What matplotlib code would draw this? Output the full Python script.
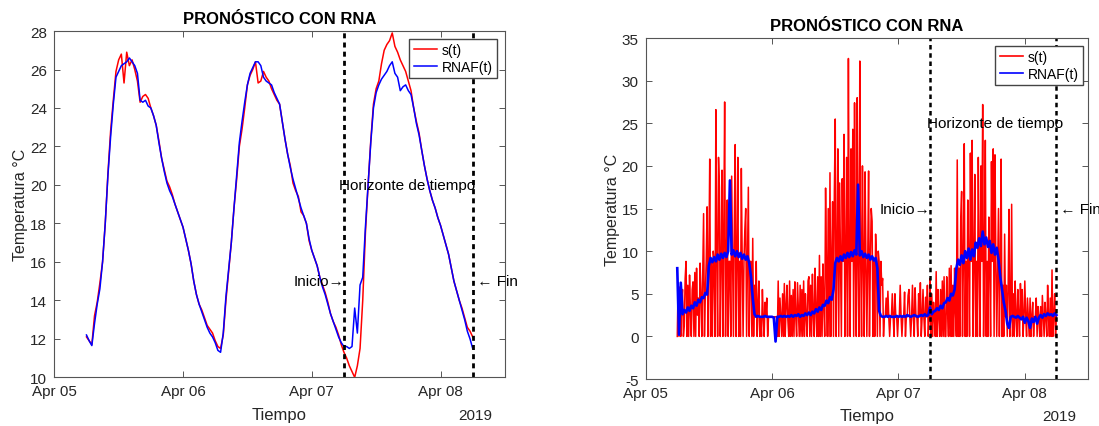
import numpy as np
import pandas as pd
import matplotlib
matplotlib.use('Agg')
import matplotlib.pyplot as plt
import matplotlib.dates as mdates

plt.rcParams['font.family'] = ['Liberation Sans', 'DejaVu Sans']
plt.rcParams['axes.unicode_minus'] = False

# ── left panel: 30 min samples, Apr 05 06:00 → Apr 08 06:00 ──
t_left = pd.date_range('2019-04-05 06:00', '2019-04-08 06:00', freq='30min')

rnaf_left = [
    12.2, 11.9, 11.65, 12.8, 13.8, 14.6,   # Apr 05 06-09
    16.0, 18.0, 20.5, 22.5, 24.2, 25.6,
    25.9, 26.2, 26.3, 26.4, 26.6, 26.4,
    26.2, 25.8, 24.4, 24.3, 24.4, 24.1,
    24.0, 23.6, 23.1, 22.2, 21.4, 20.7,
    20.1, 19.7, 19.4, 19.0, 18.6, 18.2,
    17.8, 17.2, 16.6, 15.9, 15.0, 14.3,    # Apr 06
    13.8, 13.4, 13.0, 12.6, 12.3, 12.1,
    11.8, 11.4, 11.3, 12.3, 14.2, 15.6,
    17.0, 18.8, 20.5, 22.2, 23.3, 24.3,
    25.2, 25.8, 26.1, 26.4, 26.4, 26.2,
    25.6, 25.4, 25.3, 25.2, 24.8, 24.5,
    24.2, 23.3, 22.4, 21.6, 20.9, 20.3,
    19.8, 19.3, 18.8, 18.4, 18.0, 17.2,
    16.6, 16.2, 15.8, 15.2, 14.7, 14.3,    # Apr 07
    13.8, 13.3, 12.9, 12.5, 12.1, 11.8,
    11.6, 11.6, 11.5, 11.6, 13.6, 12.3,
    14.8, 15.2, 17.8, 20.0, 22.2, 24.0,
    24.8, 25.2, 25.5, 25.7, 25.9, 26.2,
    26.4, 25.8, 25.6, 24.9, 25.1, 25.2,
    24.9, 24.7, 24.0, 23.2, 22.6, 21.8,
    21.0, 20.3, 19.7, 19.2, 18.8, 18.3,
    17.9, 17.4, 16.9, 16.4, 15.7, 15.0,    # Apr 08
    14.5, 14.0, 13.5, 13.0, 12.4, 12.0,
    11.5,
]

s_left = [
    12.1, 11.9, 11.7, 13.2, 13.9, 14.9,
    16.0, 18.0, 20.6, 22.8, 24.4, 25.9,
    26.5, 26.8, 25.3, 26.9, 26.2, 26.5,
    26.0, 25.4, 24.3, 24.6, 24.7, 24.5,
    24.0, 23.6, 23.1, 22.3, 21.4, 20.8,
    20.2, 19.9, 19.5, 19.0, 18.6, 18.2,
    17.8, 17.2, 16.6, 15.9, 15.0, 14.3,
    13.8, 13.5, 13.1, 12.7, 12.5, 12.3,
    11.9, 11.6, 11.5, 12.2, 14.0, 15.5,
    17.0, 18.8, 20.3, 22.0, 22.9, 24.0,
    25.2, 25.7, 26.0, 26.4, 25.3, 25.4,
    25.9, 25.6, 25.4, 25.0, 24.7, 24.4,
    24.2, 23.3, 22.4, 21.6, 21.0, 20.1,
    19.7, 19.4, 18.6, 18.4, 18.0, 17.1,
    16.6, 16.2, 15.8, 15.2, 14.8, 14.4,
    13.9, 13.3, 12.9, 12.6, 12.2, 11.7,
    11.3, 11.0, 10.6, 10.3, 10.0, 10.6,
    11.5, 14.0, 17.5, 20.0, 22.3, 24.2,
    25.0, 25.4, 26.3, 27.0, 27.3, 27.5,
    27.9, 27.2, 26.9, 26.5, 26.2, 25.9,
    25.4, 24.9, 24.0, 23.3, 22.7, 21.8,
    21.0, 20.3, 19.7, 19.2, 18.8, 18.3,
    17.9, 17.4, 16.9, 16.4, 15.7, 15.0,
    14.5, 14.0, 13.6, 13.1, 12.6, 12.4,
    12.1,
]

# ── right panel: measured s(t) every 10 min, RNAF(t) every 20 min ──
t_s_right = pd.date_range('2019-04-05 06:00', '2019-04-08 06:00', freq='10min')
t_rnaf_right = pd.date_range('2019-04-05 06:00', '2019-04-08 06:00', freq='20min')

s_right = [
    0, 6.3, 0, 5.8, 0, 4.0,          # Apr 05 06h
    5.5, 0, 1.2, 6.8, 8.8, 0,        # 07h
    6.0, 0, 7.2, 3.0, 0, 5.5,        # 08h
    6.4, 0, 7.5, 0, 8.0, 2.5,        # 09h
    4.5, 0, 8.6, 5.0, 0, 7.0,        # 10h
    14.4, 0, 5.0, 8.8, 15.2, 0,      # 11h
    8.8, 20.8, 0, 8.8, 0, 10.0,      # 12h
    8.8, 0, 26.6, 8.8, 0, 21.0,      # 13h
    17.4, 0, 8.8, 19.5, 0, 12.0,     # 14h
    27.5, 0, 8.8, 16.0, 0, 8.8,      # 15h
    8.8, 0, 18.8, 8.8, 0, 13.0,      # 16h
    22.5, 0, 8.8, 21.0, 0, 8.8,      # 17h
    0, 19.7, 8.8, 0, 8.8, 12.5,      # 18h
    15.0, 0, 8.8, 17.5, 0, 8.8,      # 19h
    8.8, 0, 11.5, 0, 6.0, 2.3,       # 20h
    8.8, 0, 3.5, 6.5, 0, 2.3,        # 21h
    0, 5.5, 2.3, 0, 4.0, 2.3,        # 22h
    4.5, 0, 2.3, 2.3, 2.3, 2.3,      # 23h
    2.3, 2.3, 2.3, 2.3, 2.3, 2.3,    # Apr 06 00h
    0, 6.5, 0, 4.5, 2.3, 0,          # 01h
    5.0, 0, 6.2, 0, 3.5, 6.0,        # 02h
    2.0, 0, 6.5, 0, 4.8, 0,          # 03h
    5.5, 0, 6.4, 2.3, 0, 6.3,        # 04h
    3.0, 0, 6.0, 0, 5.5, 0,          # 05h
    6.5, 0, 5.0, 2.3, 0, 6.5,        # 06h
    7.0, 0, 6.0, 0, 7.3, 2.5,        # 07h
    0, 8.0, 3.0, 0, 7.0, 0,          # 08h
    9.5, 0, 7.0, 0, 8.5, 3.5,        # 09h
    0, 17.4, 8.0, 0, 15.0, 0,        # 10h
    19.2, 0, 8.8, 15.8, 0, 17.0,     # 11h
    25.5, 0, 8.8, 22.0, 0, 18.0,     # 12h
    8.8, 0, 18.5, 8.8, 23.7, 0,      # 13h
    8.8, 21.0, 0, 32.6, 8.8, 0,      # 14h
    22.0, 8.8, 24.3, 0, 27.4, 8.8,   # 15h
    0, 28.0, 8.8, 0, 32.3, 8.8,      # 16h
    0, 20.0, 8.8, 0, 19.3, 8.8,      # 17h
    0, 8.8, 19.4, 0, 8.8, 15.0,      # 18h
    13.5, 0, 8.8, 0, 12.0, 8.8,      # 19h
    0, 10.0, 8.8, 0, 8.8, 6.0,       # 20h
    6.8, 0, 2.3, 2.3, 4.5, 2.3,      # 21h
    5.3, 2.3, 0, 2.3, 2.3, 5.0,      # 22h
    2.3, 0, 5.0, 2.3, 2.3, 0,        # 23h
    2.3, 2.3, 6.0, 2.3, 0, 2.3,      # Apr 07 00h
    2.3, 5.2, 0, 2.3, 2.3, 4.8,      # 01h
    5.5, 2.3, 0, 2.3, 6.0, 2.3,      # 02h
    0, 5.7, 2.3, 2.3, 0, 5.0,        # 03h
    2.3, 6.3, 0, 2.3, 5.5, 2.3,      # 04h
    0, 4.6, 2.3, 6.0, 0, 2.3,        # 05h
    6.8, 0, 5.0, 0, 4.0, 2.3,        # 06h
    0, 7.6, 0, 5.5, 2.3, 0,          # 07h
    5.5, 0, 6.5, 0, 7.0, 0,          # 08h
    0, 7.0, 3.0, 0, 8.0, 0,          # 09h
    8.3, 0, 6.0, 0, 8.0, 3.0,        # 10h
    0, 20.7, 0, 8.0, 0, 14.0,        # 11h
    17.0, 0, 8.8, 22.6, 0, 8.8,      # 12h
    0, 16.0, 8.8, 0, 21.5, 8.8,      # 13h
    23.0, 0, 8.8, 19.0, 0, 8.8,      # 14h
    0, 21.0, 8.8, 0, 20.0, 8.8,      # 15h
    27.2, 0, 8.8, 23.0, 0, 8.8,      # 16h
    0, 14.0, 8.8, 0, 20.5, 8.8,      # 17h
    22.0, 0, 21.3, 8.8, 0, 8.0,      # 18h
    15.0, 0, 8.0, 20.8, 0, 6.0,      # 19h
    0, 12.0, 2.3, 6.0, 0, 5.5,       # 20h
    14.9, 0, 2.3, 15.5, 0, 5.0,      # 21h
    0, 6.5, 2.3, 0, 5.5, 2.3,        # 22h
    0, 6.2, 2.3, 5.5, 0, 2.3,        # 23h
    6.5, 2.3, 0, 4.5, 2.3, 0,        # Apr 08 00h
    4.5, 0, 2.3, 4.0, 0, 2.3,        # 01h
    2.3, 4.5, 0, 3.5, 2.3, 0,        # 02h
    3.5, 0, 4.8, 2.3, 0, 4.0,        # 03h
    2.3, 0, 6.0, 2.3, 0, 4.5,        # 04h
    0, 7.8, 0, 2.3, 5.0, 0,          # 05h
    2.5,
]

rnaf_right = [
    8.0, 0.2, 6.3,  2.6, 3.1, 2.8,  3.4, 3.0, 3.6,      # Apr 05 06-08
    3.3, 4.0, 3.6,  4.3, 4.0, 4.6,  4.5, 5.1, 4.9,
    8.3, 9.2, 8.7,  9.3, 8.8, 9.6,  9.0, 9.7, 9.2,
    9.8, 9.3, 10.0,  18.3, 9.6, 10.1,  9.4, 10.0, 9.3,
    9.8, 9.1, 9.6,  9.0, 9.4, 8.6,  7.0, 4.5, 2.6,
    2.3, 2.4, 2.3,  2.3, 2.3, 2.4,  2.3, 2.3, 2.3,
    2.3, 2.2, -0.6,  2.3, 2.3, 2.4,  2.3, 2.4, 2.3,     # Apr 06
    2.4, 2.3, 2.5,  2.3, 2.5, 2.4,  2.6, 2.3, 2.5,
    2.4, 2.7, 2.5,  2.8, 2.5, 2.9,  2.7, 3.2, 2.9,
    3.4, 3.1, 3.7,  3.6, 4.2, 3.9,  4.6, 4.3, 5.5,
    8.6, 9.2, 8.8,  9.4, 8.9, 9.6,  9.2, 9.8, 9.3,
    9.9, 9.4, 10.1,  9.6, 17.8, 9.5,  10.0, 9.3, 9.7,
    9.2, 9.6, 9.0,  9.4, 8.9, 9.2,  8.0, 3.0, 2.4,
    2.3, 2.3, 2.4,  2.3, 2.4, 2.3,  2.3, 2.3, 2.4,
    2.3, 2.4, 2.3,  2.4, 2.3, 2.5,  2.4, 2.3, 2.4,      # Apr 07
    2.5, 2.4, 2.3,  2.4, 2.5, 2.4,  2.6, 2.4, 2.5,
    3.4, 2.6, 2.9,  3.0, 3.3, 3.1,  3.6, 3.3, 3.9,
    4.0, 4.5, 4.2,  5.0, 4.8, 5.5,  8.0, 9.0, 8.4,
    9.5, 8.6, 10.0,  9.2, 10.3, 9.0,  10.2, 9.4, 11.0,
    10.4, 11.5, 10.6,  12.3, 10.8, 11.6,  10.5, 11.2, 9.8,
    10.8, 9.6, 10.4,  9.0, 7.0, 5.5,  4.0, 3.0, 1.5,
    1.0, 2.3, 2.4,  2.3, 2.2, 2.4,  2.2, 2.0, 2.3,
    1.6, 2.2, 1.8,  1.0, 2.1, 1.7,  2.3, 1.5, 2.2,      # Apr 08
    2.5, 2.2, 2.6,  2.4, 2.7, 2.5,  2.6, 2.4, 2.7,
    2.5,
]

horizon = [pd.Timestamp('2019-04-07 06:00'), pd.Timestamp('2019-04-08 06:00')]
xlim = (pd.Timestamp('2019-04-05 00:00'), pd.Timestamp('2019-04-08 12:00'))

fig = plt.figure(figsize=(10.99, 4.27), dpi=100)
ax1 = fig.add_axes([0.0494, 0.114, 0.410, 0.811])
ax2 = fig.add_axes([0.5875, 0.110, 0.4025, 0.7986])

grey = '#555555'


def style_axes(ax, ylim, yticks):
    ax.set_xlim(*xlim)
    ax.set_ylim(*ylim)
    ax.set_yticks(yticks)
    ax.xaxis.set_major_locator(mdates.DayLocator())
    ax.xaxis.set_major_formatter(mdates.DateFormatter('%b %d'))
    ax.tick_params(direction='in', top=True, right=True, length=4,
                   width=0.7, color=grey, labelsize=11, labelcolor='#262626', pad=5)
    for sp in ax.spines.values():
        sp.set_color(grey)
        sp.set_linewidth(0.8)
    ax.set_title('PRONÓSTICO CON RNA', fontsize=12, fontweight='bold', pad=6)
    ax.set_xlabel('Tiempo', fontsize=12, color='#262626', va='center')
    ax.xaxis.set_label_coords(0.5, -0.108)
    ax.set_ylabel('Temperatura °C', fontsize=11.5, color='#262626', va='center')
    ax.yaxis.set_label_coords(-0.076, 0.5)
    ax.text(0.935, -0.108, '2019', transform=ax.transAxes, ha='center', va='center',
            fontsize=11, color='#262626')


# left panel
ax1.plot(t_left, s_left, color='red', lw=1.1, label='s(t)')
ax1.plot(t_left, rnaf_left, color='blue', lw=1.1, label='RNAF(t)')
style_axes(ax1, (10, 28), np.arange(10, 29, 2))
for h in horizon:
    ax1.axvline(h, color='black', lw=2, ls=(0, (1.8, 1.5)))
ax1.text(horizon[0] - pd.Timedelta(minutes=55), 20, 'Horizonte de tiempo',
         fontsize=11, va='center', ha='left')
ax1.text(horizon[0], 15, 'Inicio→', fontsize=11, va='center', ha='right')
ax1.text(horizon[1], 15, ' ← Fin', fontsize=11, va='center', ha='left')
ax1.legend(loc='upper right', bbox_to_anchor=(0.983, 0.977), borderaxespad=0,
           fontsize=10, fancybox=False, edgecolor='#444444', framealpha=1,
           handlelength=1.7, handletextpad=0.35, borderpad=0.3, labelspacing=0.2)

# right panel
ax2.plot(t_s_right, s_right, color='red', lw=1.1, label='s(t)')
ax2.plot(t_rnaf_right, rnaf_right, color='blue', lw=1.9, label='RNAF(t)')
style_axes(ax2, (-5, 35), np.arange(-5, 36, 5))
for h in horizon:
    ax2.axvline(h, color='black', lw=1.8, ls=(0, (1.8, 1.5)))
ax2.text(horizon[0] - pd.Timedelta(minutes=35), 25, 'Horizonte de tiempo',
         fontsize=11, va='center', ha='left')
ax2.text(horizon[0], 15, 'Inicio→', fontsize=11, va='center', ha='right')
ax2.text(horizon[1], 15, ' ← Fin', fontsize=11, va='center', ha='left')
leg2 = ax2.legend(loc='upper right', bbox_to_anchor=(0.989, 0.977), borderaxespad=0,
                  fontsize=10, fancybox=False, edgecolor='#444444', framealpha=1,
                  handlelength=1.7, handletextpad=0.35, borderpad=0.3, labelspacing=0.2)
for line in leg2.get_lines():
    line.set_linewidth(1.2)

fig.savefig('out.png', dpi=100, facecolor='white')
